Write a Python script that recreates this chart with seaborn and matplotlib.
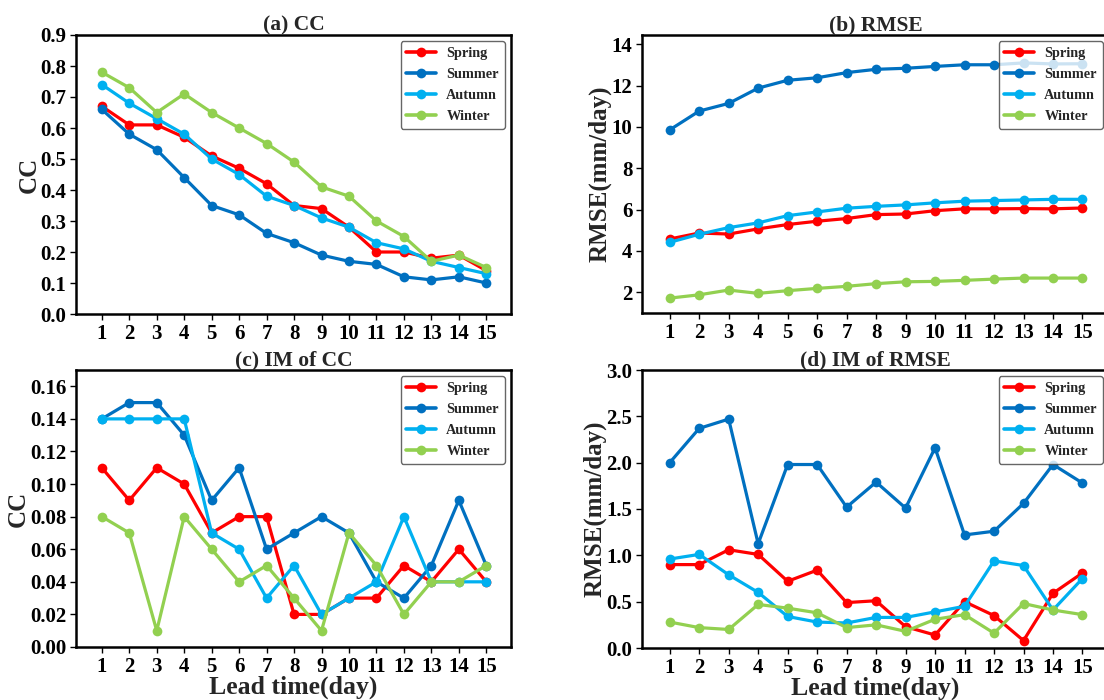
import numpy as np
import pandas as pd
import matplotlib
matplotlib.use("Agg")
import matplotlib.pyplot as plt
import seaborn as sns

# Lead times (days)
lead_days = list(range(1, 16))
seasons = ["Spring", "Summer", "Autumn", "Winter"]
season_colors = ["#FF0000", "#0070C0", "#00B0F0", "#92D050"]

# (a) correlation coefficient
cc_spring = [0.67, 0.61, 0.61, 0.57, 0.51, 0.47, 0.42, 0.35, 0.34, 0.28, 0.20, 0.20, 0.18, 0.19, 0.14]
cc_summer = [0.66, 0.58, 0.53, 0.44, 0.35, 0.32, 0.26, 0.23, 0.19, 0.17, 0.16, 0.12, 0.11, 0.12, 0.10]
cc_autumn = [0.74, 0.68, 0.63, 0.58, 0.50, 0.45, 0.38, 0.35, 0.31, 0.28, 0.23, 0.21, 0.17, 0.15, 0.13]
cc_winter = [0.78, 0.73, 0.65, 0.71, 0.65, 0.60, 0.55, 0.49, 0.41, 0.38, 0.30, 0.25, 0.17, 0.19, 0.15]

# (b) RMSE (mm/day)
rmse_spring = [4.58, 4.87, 4.82, 5.07, 5.28, 5.44, 5.57, 5.76, 5.79, 5.95, 6.04, 6.04, 6.05, 6.04, 6.08]
rmse_summer = [9.86, 10.77, 11.14, 11.88, 12.26, 12.38, 12.63, 12.79, 12.84, 12.93, 13.01, 13.01, 13.10, 13.05, 13.06]
rmse_autumn = [4.42, 4.81, 5.13, 5.36, 5.71, 5.89, 6.07, 6.16, 6.23, 6.33, 6.41, 6.44, 6.47, 6.50, 6.50]
rmse_winter = [1.72, 1.88, 2.11, 1.95, 2.08, 2.19, 2.29, 2.42, 2.51, 2.53, 2.58, 2.64, 2.69, 2.69, 2.69]

# (c) improvement of CC
imcc_spring = [0.11, 0.09, 0.11, 0.10, 0.07, 0.08, 0.08, 0.02, 0.02, 0.03, 0.03, 0.05, 0.04, 0.06, 0.04]
imcc_summer = [0.14, 0.15, 0.15, 0.13, 0.09, 0.11, 0.06, 0.07, 0.08, 0.07, 0.04, 0.03, 0.05, 0.09, 0.05]
imcc_autumn = [0.14, 0.14, 0.14, 0.14, 0.07, 0.06, 0.03, 0.05, 0.02, 0.03, 0.04, 0.08, 0.04, 0.04, 0.04]
imcc_winter = [0.08, 0.07, 0.01, 0.08, 0.06, 0.04, 0.05, 0.03, 0.01, 0.07, 0.05, 0.02, 0.04, 0.04, 0.05]

# (d) improvement of RMSE (mm/day)
imrmse_spring = [0.90, 0.90, 1.06, 1.01, 0.72, 0.84, 0.49, 0.51, 0.23, 0.14, 0.50, 0.35, 0.08, 0.59, 0.81]
imrmse_summer = [2.00, 2.37, 2.47, 1.125, 1.98, 1.98, 1.52, 1.79, 1.51, 2.16, 1.22, 1.26, 1.56, 1.98, 1.78]
imrmse_autumn = [0.96, 1.01, 0.79, 0.60, 0.34, 0.28, 0.27, 0.33, 0.33, 0.39, 0.45, 0.94, 0.89, 0.41, 0.75]
imrmse_winter = [0.28, 0.22, 0.20, 0.47, 0.43, 0.38, 0.22, 0.25, 0.18, 0.31, 0.36, 0.16, 0.48, 0.41, 0.36]

cc_ticks = [0.0, 0.1, 0.2, 0.3, 0.4, 0.5, 0.6, 0.7, 0.8, 0.9]
rmse_ticks = [2, 4, 6, 8, 10, 12, 14]
imcc_ticks = [0.00, 0.02, 0.04, 0.06, 0.08, 0.10, 0.12, 0.14, 0.16]
imrmse_ticks = [0.0, 0.5, 1.0, 1.5, 2.0, 2.5, 3.0]

sns.set_theme(style="ticks")
plt.rcParams["font.family"] = ["Liberation Serif", "DejaVu Serif"]
plt.rcParams["font.weight"] = "bold"
plt.rcParams["axes.labelweight"] = "bold"
plt.rcParams["axes.titleweight"] = "bold"


def to_long(series):
    frames = []
    for name, vals in zip(seasons, series):
        frames.append(pd.DataFrame({"lead": lead_days, "value": vals, "season": name}))
    return pd.concat(frames, ignore_index=True)


W, H = 1104, 700
fig = plt.figure(figsize=(W / 100, H / 100), dpi=100)


def px_axes(left, top, right, bottom):
    return fig.add_axes([left / W, 1 - bottom / H, (right - left) / W, (bottom - top) / H])


panels = [
    (px_axes(76, 35, 511, 314), [cc_spring, cc_summer, cc_autumn, cc_winter],
     "(a) CC", "CC", None, (0, 0.9), cc_ticks, "{:.1f}"),
    (px_axes(642, 35, 1109, 313), [rmse_spring, rmse_summer, rmse_autumn, rmse_winter],
     "(b) RMSE", "RMSE(mm/day)", None, (1.0, 14.45), rmse_ticks, "{:d}"),
    (px_axes(76, 370, 511, 647), [imcc_spring, imcc_summer, imcc_autumn, imcc_winter],
     "(c) IM of CC", "CC", "Lead time(day)", (0, 0.17), imcc_ticks, "{:.2f}"),
    (px_axes(642, 370, 1109, 648), [imrmse_spring, imrmse_summer, imrmse_autumn, imrmse_winter],
     "(d) IM of RMSE", "RMSE(mm/day)", "Lead time(day)", (0, 3.0), imrmse_ticks, "{:.1f}"),
]

for ax, series, title, ylabel, xlabel, ylim, yticks, fmt in panels:
    df = to_long(series)
    sns.lineplot(data=df, x="lead", y="value", hue="season", hue_order=seasons,
                 palette=season_colors, marker="o", markersize=7, markeredgewidth=0,
                 linewidth=2.3, ax=ax, legend=False)
    ax.set_xlim(0.06, 15.9)
    ax.set_ylim(*ylim)
    ax.set_xticks(lead_days)
    ax.set_xticklabels([str(d) for d in lead_days], fontsize=15, fontweight="bold")
    ax.set_yticks(yticks)
    ax.set_yticklabels([fmt.format(t) for t in yticks], fontsize=15, fontweight="bold")
    ax.set_title(title, fontsize=15.5, fontweight="bold", pad=3)
    ax.set_ylabel(ylabel, fontsize=18, fontweight="bold", labelpad=0)
    ax.set_xlabel(xlabel if xlabel else "", fontsize=18.5, fontweight="bold", labelpad=-1)
    for sp in ax.spines.values():
        sp.set_linewidth(1.8)
        sp.set_color("black")
        sp.set_visible(True)
    ax.tick_params(axis="both", direction="out", length=4, width=1.0, pad=3, colors="black")
    handles = [plt.Line2D([], [], color=c, marker="o", markersize=7, markeredgewidth=0,
                          linewidth=2.6) for c in season_colors]
    leg = ax.legend(handles, seasons, loc="upper right",
                    prop={"weight": "bold", "size": 10.3}, frameon=True,
                    handlelength=2.1, handletextpad=0.7, labelspacing=0.55,
                    borderpad=0.4, borderaxespad=0.45, fancybox=True, framealpha=0.8,
                    edgecolor="#404040")
    leg.get_frame().set_linewidth(1.0)

fig.savefig("out.png", dpi=100)
